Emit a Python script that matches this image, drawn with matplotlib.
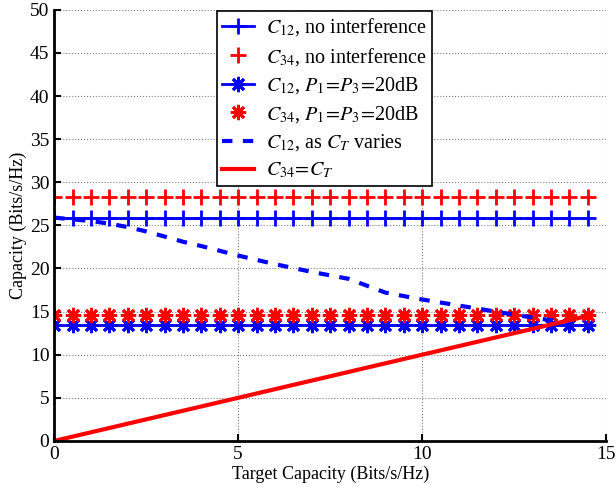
import matplotlib
matplotlib.use("Agg")
import matplotlib.pyplot as plt
import numpy as np

plt.rcParams['font.family'] = ['Liberation Serif', 'DejaVu Serif']
plt.rcParams['mathtext.fontset'] = 'stix'

# target capacity grid (markers every 0.5)
ct = np.arange(0, 14.51, 0.5)
c12_noint = [25.9] * len(ct)
c34_noint = [28.3] * len(ct)
c12_20db = [13.5] * len(ct)
c34_20db = [14.6] * len(ct)

# C12 as C_T varies
ct_vary = [0, 0.5, 1, 1.5, 2, 2.5, 3, 3.5, 4, 5, 6, 7, 8, 8.5, 9, 10, 11, 12, 13, 13.5, 14, 14.5]
c12_vary = [25.9, 25.7, 25.5, 25.2, 24.8, 24.3, 23.7, 23.1, 22.6, 21.5, 20.5, 19.6, 18.8, 18.0, 17.2, 16.4, 15.7, 15.0, 14.3, 14.0, 13.8, 13.7]

ct_line = [0, 14.5]
c34_line = [0, 14.5]

ast = (8, 2, 0)  # matlab-like asterisk

fig = plt.figure(figsize=(6.16, 4.91), dpi=100)
ax = fig.add_axes([0.088, 0.102, 0.896, 0.878])

ax.plot(ct, c12_noint, '-', marker='+', color='blue', lw=2, ms=12, mew=2, label=r'$C_{12}$, no interference')
ax.plot(ct, c34_noint, ls='none', marker='+', color='red', ms=12, mew=2, label=r'$C_{34}$, no interference')
ax.plot(ct, c12_20db, '-', marker=ast, color='blue', lw=2, ms=11, mew=2, label=r'$C_{12}$, $P_1\!=\!P_3\!=\!$20dB')
ax.plot(ct, c34_20db, ls='none', marker=ast, color='red', ms=11, mew=2, label=r'$C_{34}$, $P_1\!=\!P_3\!=\!$20dB')
ax.plot(ct_vary, c12_vary, '--', color='blue', lw=3, dashes=(2.5, 2.5), label=r'$C_{12}$, as $C_T$ varies')
ax.plot(ct_line, c34_line, '-', color='red', lw=3, label=r'$C_{34}\!=\!C_T$')

ax.set_xlim(0, 15)
ax.set_ylim(0, 50)
ax.set_xticks([0, 5, 10, 15])
ax.set_yticks(np.arange(0, 51, 5))
ax.tick_params(direction='in', labelsize=14, width=1.5, length=5)
ax.grid(True, linestyle=':', color='gray', lw=0.8)
for s in ['top', 'right']:
    ax.spines[s].set_visible(False)
for s in ['left', 'bottom']:
    ax.spines[s].set_linewidth(2)

ax.set_xlabel('Target Capacity (Bits/s/Hz)', fontsize=13, labelpad=2)
ax.set_ylabel('Capacity (Bits/s/Hz)', fontsize=13, labelpad=2)

leg = ax.legend(loc='upper center', bbox_to_anchor=(0.49, 1.02), fontsize=14.5, fancybox=False,
                edgecolor='black', framealpha=1, handlelength=1.6, labelspacing=0.38,
                borderpad=0.25, handletextpad=0.6)
leg.get_frame().set_linewidth(1.2)

fig.savefig('out.png', dpi=100)
